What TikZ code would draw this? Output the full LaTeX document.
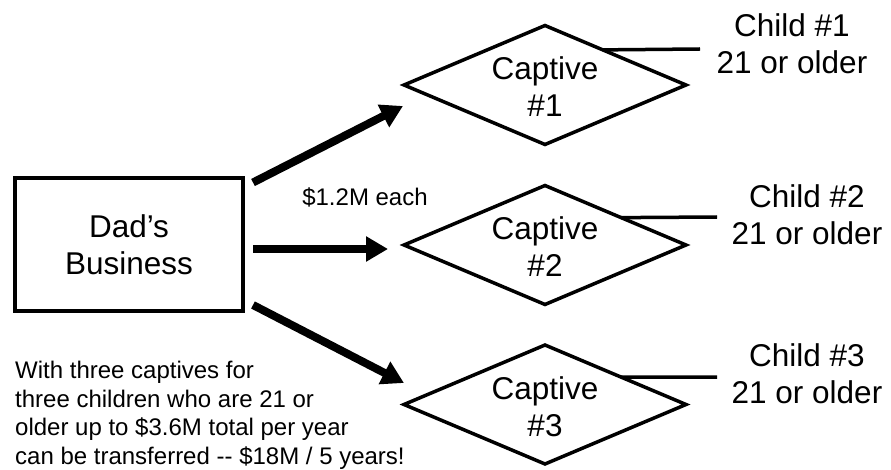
\documentclass[tikz,border=0pt]{standalone}
\usepackage{fontspec}
\setmainfont{Liberation Sans}
\usetikzlibrary{shapes.geometric,arrows.meta,calc}
\begin{document}
\begin{tikzpicture}[x=1pt,y=-1pt,
  big/.style={font=\fontsize{31.5}{37}\selectfont, align=center, inner sep=0pt},
  small/.style={font=\fontsize{24}{28.5}\selectfont, inner sep=0pt},
  captive/.style={draw, diamond, line width=3.5pt, minimum width=282pt, minimum height=119pt, inner sep=0pt, outer sep=0pt},
  bizbox/.style={draw, rectangle, line width=4pt, minimum width=228pt, minimum height=133pt, outer sep=0pt},
  flow/.style={line width=8pt, -{Triangle[length=22pt,width=24pt]}},
  link/.style={line width=3.5pt}]
\useasboundingbox (0,0) rectangle (891,470);

% business box
\node[bizbox, big] (dad) at (129,244.5) {Dad’s\\Business};

% captives
\node[captive] (c1) at (545,85) {};
\node[captive] (c2) at (545,245) {};
\node[captive] (c3) at (545,404.5) {};
\node[big] (t1) at (545,87) {Captive\\\#1};
\node[big] (t2) at (545,247) {Captive\\\#2};
\node[big] (t3) at (545,406.5) {Captive\\\#3};

% children
\node[big] (k1) at (792,44) {Child \#1\\21 or older};
\node[big] (k2) at (807,215) {Child \#2\\21 or older};
\node[big] (k3) at (807,374) {Child \#3\\21 or older};

\coordinate (e1) at (700,49);
\coordinate (e2) at (717,217);
\coordinate (e3) at (717,377);
\draw[link] ($(c1.north)!0.41!(c1.east)$) -- (e1);
\draw[link] ($(c2.north)!0.54!(c2.east)$) -- (e2);
\draw[link] ($(c3.north)!0.54!(c3.east)$) -- (e3);

% flows
\draw[flow] ([shift={(10,4.5)}]dad.north east) -- ([shift={(-1,21)}]c1.west);
\draw[flow] ([shift={(10,4.5)}]dad.east) -- ([shift={(-16,4)}]c2.west);
\draw[flow] ([shift={(10,-6)}]dad.south east) -- ([shift={(0,-21.5)}]c3.west);

% texts
\node[small] (amt) at (365,197) {\$1.2M each};
\node[small, align=left, anchor=west] (note) at (15,415.5) {With three captives for\\three children who are 21 or\\older up to \$3.6M total per year\\can be transferred -{}- \$18M / 5 years!};
\end{tikzpicture}
\end{document}
